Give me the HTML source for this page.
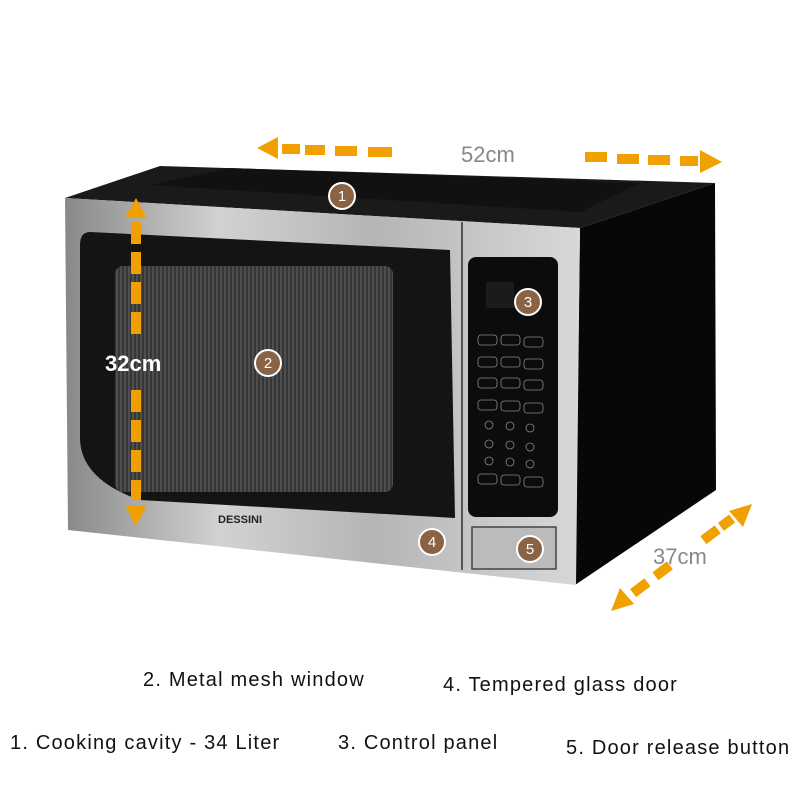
<!DOCTYPE html>
<html><head><style>
body{margin:0;width:800px;height:800px;background:#fff;overflow:hidden;font-family:"Liberation Sans",sans-serif}
.l{position:absolute;font-size:20px;color:#111;white-space:nowrap;letter-spacing:1.2px}
</style></head><body>
<svg width="800" height="800" style="position:absolute;left:0;top:0">
<defs>
<linearGradient id="steel" x1="0" x2="1" y1="0" y2="0">
<stop offset="0" stop-color="#888"/><stop offset="0.3" stop-color="#d2d2d2"/><stop offset="0.6" stop-color="#b5b5b5"/><stop offset="1" stop-color="#d8d8d8"/></linearGradient>
<pattern id="mesh" width="4" height="10" patternUnits="userSpaceOnUse"><rect width="4" height="10" fill="#3a3a3a"/><rect width="2" height="10" fill="#555"/></pattern>
</defs>
<polygon points="65,198 160,166 715,183 580,228" fill="#1a1a1a"/>
<polygon points="150,185 230,168 640,183 580,212 " fill="#111"/>
<polygon points="580,228 715,183 716,490 575,585" fill="#070707"/>
<polygon points="65,198 580,228 576,585 68,530" fill="url(#steel)"/>
<line x1="462" y1="222" x2="462" y2="570" stroke="#555" stroke-width="2"/>
<path d="M90,232 L450,250 L455,518 L140,500 Q82,480 80,440 L80,245 Q80,232 90,232Z" fill="#141414"/>
<rect x="115" y="266" width="278" height="226" rx="8" fill="url(#mesh)" opacity="0.9"/>
<rect x="468" y="257" width="90" height="260" rx="8" fill="#0c0c0c"/>
<rect x="486" y="282" width="28" height="26" fill="#1b1b1b"/>
<g fill="none" stroke="#888" stroke-width="0.8">
<rect x="478" y="335" width="19" height="10" rx="3"/><rect x="501" y="335" width="19" height="10" rx="3"/><rect x="524" y="337" width="19" height="10" rx="3"/>
<rect x="478" y="357" width="19" height="10" rx="3"/><rect x="501" y="357" width="19" height="10" rx="3"/><rect x="524" y="359" width="19" height="10" rx="3"/>
<rect x="478" y="378" width="19" height="10" rx="3"/><rect x="501" y="378" width="19" height="10" rx="3"/><rect x="524" y="380" width="19" height="10" rx="3"/>
<rect x="478" y="400" width="19" height="10" rx="3"/><rect x="501" y="401" width="19" height="10" rx="3"/><rect x="524" y="403" width="19" height="10" rx="3"/>
<circle cx="489" cy="425" r="4"/><circle cx="510" cy="426" r="4"/><circle cx="530" cy="428" r="4"/>
<circle cx="489" cy="444" r="4"/><circle cx="510" cy="445" r="4"/><circle cx="530" cy="447" r="4"/>
<circle cx="489" cy="461" r="4"/><circle cx="510" cy="462" r="4"/><circle cx="530" cy="464" r="4"/>
<rect x="478" y="474" width="19" height="10" rx="3"/><rect x="501" y="475" width="19" height="10" rx="3"/><rect x="524" y="477" width="19" height="10" rx="3"/>
</g>
<rect x="472" y="527" width="84" height="42" fill="#bbb" stroke="#444" stroke-width="1.5"/>
<text x="218" y="523" font-size="11" font-weight="bold" fill="#222">DESSINI</text>
<g fill="#f0a000">
<polygon points="257,148 278,137 278,159"/>
<rect x="282" y="144" width="18" height="10"/><rect x="305" y="145" width="20" height="10"/><rect x="335" y="146" width="22" height="10"/><rect x="368" y="147" width="24" height="10"/>
<rect x="585" y="152" width="22" height="10"/><rect x="617" y="154" width="22" height="10"/><rect x="648" y="155" width="22" height="10"/><rect x="680" y="156" width="18" height="10"/>
<polygon points="722,162 700,150 700,173"/>
<polygon points="136,198 125,218 147,218"/>
<rect x="131" y="222" width="10" height="22"/><rect x="131" y="252" width="10" height="22"/><rect x="131" y="282" width="10" height="22"/><rect x="131" y="312" width="10" height="22"/><rect x="131" y="390" width="10" height="22"/><rect x="131" y="420" width="10" height="22"/><rect x="131" y="450" width="10" height="22"/><rect x="131" y="480" width="10" height="20"/>
<polygon points="136,526 125,505 147,505"/>
<polygon points="752,504 743,527 729,511"/>
<g transform="translate(681,557) rotate(-37)"><rect x="-60" y="-5" width="18" height="10"/><rect x="-32" y="-5" width="18" height="10"/><rect x="28" y="-5" width="18" height="10"/><rect x="50" y="-5" width="14" height="10"/></g>
<polygon points="611,611 620,588 634,604"/>
</g>
<g font-family="Liberation Sans" text-anchor="middle" font-size="15" fill="#fff">
<g stroke="#fff" stroke-width="2" fill="#8a6244"><circle cx="342" cy="196" r="13"/><circle cx="268" cy="363" r="13"/><circle cx="528" cy="302" r="13"/><circle cx="432" cy="542" r="13"/><circle cx="530" cy="549" r="13"/></g>
<text x="342" y="201">1</text><text x="268" y="368">2</text><text x="528" y="307">3</text><text x="432" y="547">4</text><text x="530" y="554">5</text>
</g>
<text x="461" y="162" font-size="22" fill="#888">52cm</text>
<text x="105" y="371" font-size="22" font-weight="bold" fill="#fff">32cm</text>
<text x="653" y="564" font-size="22" fill="#888">37cm</text>
</svg>
<div class="l" style="left:143px;top:669px">2. Metal mesh window</div>
<div class="l" style="left:443px;top:674px">4. Tempered glass door</div>
<div class="l" style="left:10px;top:732px">1. Cooking cavity - 34 Liter</div>
<div class="l" style="left:338px;top:732px">3. Control panel</div>
<div class="l" style="left:566px;top:737px">5. Door release button</div>
</body></html>
